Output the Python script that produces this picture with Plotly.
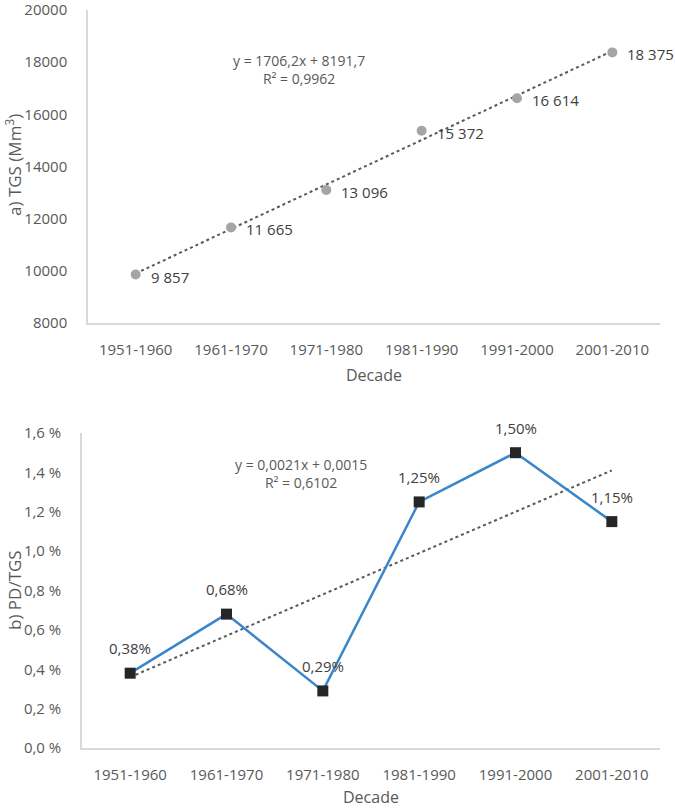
import plotly.graph_objects as go

# data
decades = ["1951-1960", "1961-1970", "1971-1980", "1981-1990", "1991-2000", "2001-2010"]
tgs = [9857, 11665, 13096, 15372, 16614, 18375]
tgs_labels = ["9 857", "11 665", "13 096", "15 372", "16 614", "18 375"]
tgs_trend = [9898, 18429]          # linear trend at first / last decade
tgs_ticks = [8000, 10000, 12000, 14000, 16000, 18000, 20000]

pd_tgs = [0.38, 0.68, 0.29, 1.25, 1.50, 1.15]   # percent
pd_labels = ["0,38%", "0,68%", "0,29%", "1,25%", "1,50%", "1,15%"]
pd_trend = [0.36, 1.41]
pd_ticks = [0.0, 0.2, 0.4, 0.6, 0.8, 1.0, 1.2, 1.4, 1.6]
pd_ticktext = ["0,0 %", "0,2 %", "0,4 %", "0,6 %", "0,8 %", "1,0 %", "1,2 %", "1,4 %", "1,6 %"]

FONT = "Open Sans"
TICK_C = "#595959"
LABEL_C = "#404040"
AXIS_C = "#d9d9d9"

W, H = 675, 808


def px(x):
    return x / W


def py(y):
    return 1 - y / H


fig = go.Figure()

# a) TGS
fig.add_trace(go.Scatter(
    x=[decades[0], decades[-1]], y=tgs_trend, mode="lines",
    line=dict(color="#595959", width=2, dash="dot"),
    xaxis="x", yaxis="y", showlegend=False, hoverinfo="skip"))
fig.add_trace(go.Scatter(
    x=decades, y=tgs, mode="markers",
    marker=dict(color="#a5a5a5", size=10),
    xaxis="x", yaxis="y", showlegend=False))

# b) PD/TGS
fig.add_trace(go.Scatter(
    x=[decades[0], decades[-1]], y=pd_trend, mode="lines",
    line=dict(color="#595959", width=2, dash="dot"),
    xaxis="x2", yaxis="y2", showlegend=False, hoverinfo="skip"))
fig.add_trace(go.Scatter(
    x=decades, y=pd_tgs, mode="lines+markers",
    line=dict(color="#3b86cb", width=2.5),
    marker=dict(color="#262626", size=11, symbol="square"),
    xaxis="x2", yaxis="y2", showlegend=False))

# data labels
for d, v, t in zip(decades, tgs, tgs_labels):
    fig.add_annotation(x=d, y=v, xref="x", yref="y", text=t, showarrow=False,
                       xanchor="left", yanchor="middle", xshift=13, yshift=-2,
                       font=dict(family=FONT, size=15, color=LABEL_C))
for d, v, t in zip(decades, pd_tgs, pd_labels):
    fig.add_annotation(x=d, y=v, xref="x2", yref="y2", text=t, showarrow=False,
                       xanchor="center", yanchor="middle", yshift=25,
                       font=dict(family=FONT, size=15, color=LABEL_C))

xcommon = dict(type="category", categoryorder="array", categoryarray=decades,
               range=[-0.5, 5.5], showgrid=False, automargin=False,
               showline=True, linecolor=AXIS_C, linewidth=1.5, ticks="",
               tickfont=dict(family=FONT, size=15, color=TICK_C),
               ticklabelstandoff=12)
ycommon = dict(showgrid=False, zeroline=False, showline=True, linecolor=AXIS_C,
               automargin=False, linewidth=1.5, ticks="",
               tickfont=dict(family=FONT, size=15, color=TICK_C),
               ticklabelstandoff=16, ticklabeloverflow="allow")

fig.update_layout(
    width=W, height=H,
    margin=dict(l=0, r=0, t=0, b=0),
    paper_bgcolor="white", plot_bgcolor="white",
    font=dict(family=FONT, color=TICK_C),
    xaxis=dict(domain=[px(88), px(660)], anchor="y", **xcommon),
    yaxis=dict(domain=[py(323), py(10)], anchor="x", range=[8000, 20000.5],
               tickvals=tgs_ticks, ticktext=[str(v) for v in tgs_ticks], **ycommon),
    xaxis2=dict(domain=[px(82), px(660)], anchor="y2", **xcommon),
    yaxis2=dict(domain=[py(748), py(433)], anchor="x2", range=[0, 1.6001],
                tickvals=pd_ticks, ticktext=pd_ticktext, **ycommon),
)

annots = [
    dict(text="Decade", x=374, y=375, size=16, angle=0),
    dict(text="Decade", x=371, y=797, size=16, angle=0),
    dict(text="a) TGS (Mm<sup>3</sup>)", x=14, y=165, size=17, angle=-90),
    dict(text="b) PD/TGS", x=14, y=590, size=17, angle=-90),
    dict(text="y = 1706,2x + 8191,7<br>R² = 0,9962", x=299, y=70, size=14, angle=0),
    dict(text="y = 0,0021x + 0,0015<br>R² = 0,6102", x=301, y=473, size=14, angle=0),
]
for a in annots:
    fig.add_annotation(text=a["text"], x=px(a["x"]), y=py(a["y"]), xref="paper", yref="paper",
                       showarrow=False, textangle=a["angle"], align="center",
                       xanchor="center", yanchor="middle",
                       font=dict(family=FONT, size=a["size"], color=TICK_C))

# drop the page's default body margin so the figure fills the window
fig.write_html("out.html", config={"displayModeBar": False},
               post_script="document.body.style.margin = '0';")
